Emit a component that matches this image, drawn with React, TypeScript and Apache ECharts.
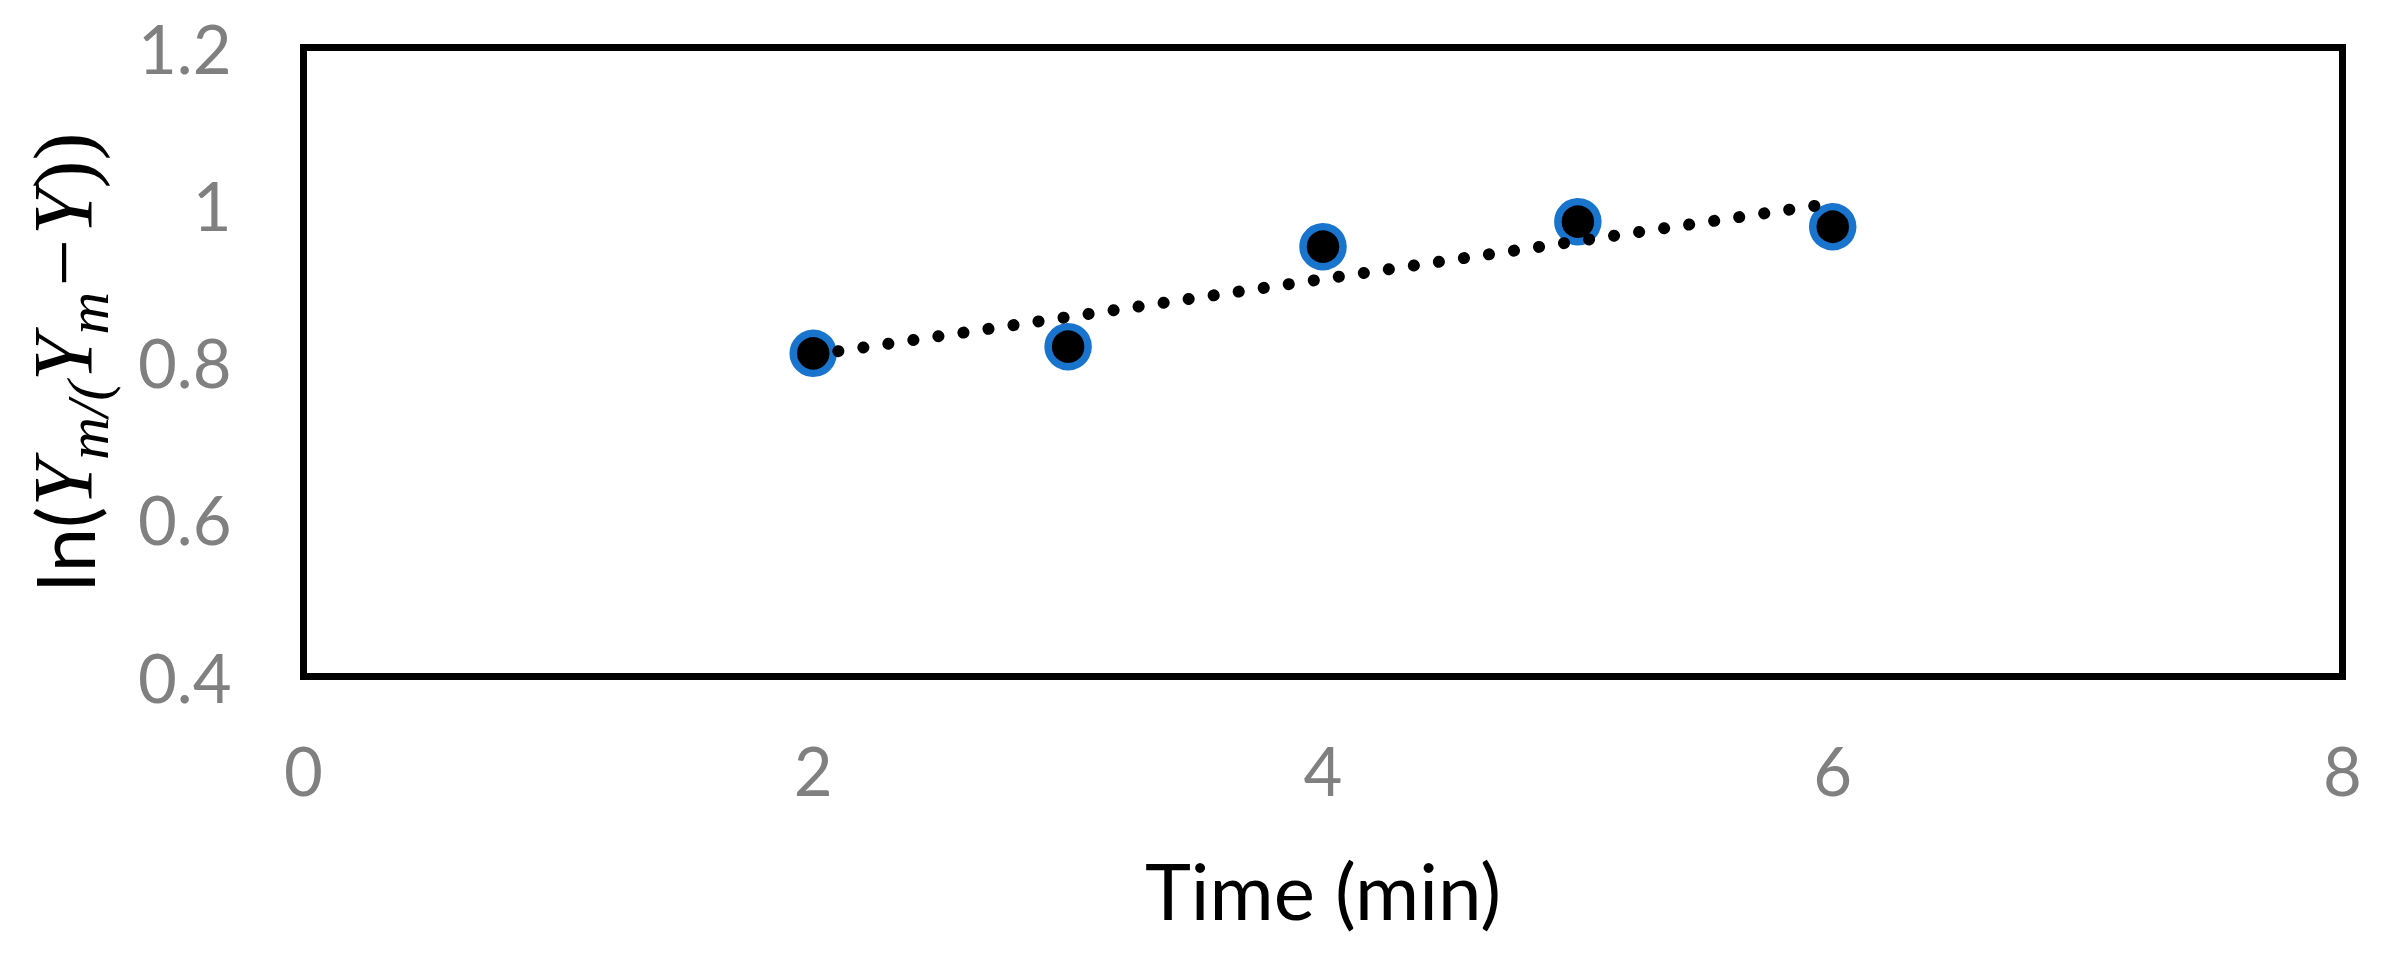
import React, { useEffect, useRef } from "react";
import * as echarts from "echarts";

// Data
const timeMin = [2, 3, 4, 5, 6];
const lnRatio = [0.811, 0.8195, 0.9467, 0.9785, 0.972];
// Linear trendline end points (as drawn in the reference)
const trendTime = [2, 6];
const trendValue = [0.809, 1.002];
// Axis ticks
const xTicks = [0, 2, 4, 6, 8];
const yTicks = [0.4, 0.6, 0.8, 1.0, 1.2];

const xTitle = "Time (min)";
const yTitle = "{n|ln(}{i|Y}{s|m/(}{i|Y}{s|m}{i|−}{i|Y}{p|))}";

export default function App() {
  const ref = useRef<HTMLDivElement>(null);

  useEffect(() => {
    if (!ref.current) return;
    const chart = echarts.init(ref.current, undefined, { renderer: "svg" });
    const scatterData = timeMin.map((t, i) => [t, lnRatio[i]]);
    const trendData = trendTime.map((t, i) => [t, trendValue[i]]);
    const tickFont = { fontFamily: "Lato", fontSize: 67, color: "#808080" };
    chart.setOption({
      animation: false,
      backgroundColor: "#ffffff",
      grid: {
        left: 303.5,
        right: 50.5,
        top: 47.5,
        bottom: 283.5,
        show: true,
        borderColor: "#000000",
        borderWidth: 7,
        backgroundColor: "transparent",
      },
      xAxis: {
        type: "value",
        min: xTicks[0],
        max: xTicks[xTicks.length - 1],
        interval: xTicks[1] - xTicks[0],
        axisLine: { show: false },
        axisTick: { show: false },
        splitLine: { show: false },
        axisLabel: { ...tickFont, margin: 60 },
        name: xTitle,
        nameLocation: "middle",
        nameGap: 174,
        nameTextStyle: {
          fontFamily: "Lato",
          fontSize: 78,
          color: "#000000",
        },
      },
      yAxis: {
        type: "value",
        min: yTicks[0],
        max: yTicks[yTicks.length - 1],
        interval: 0.2,
        axisLine: { show: false },
        axisTick: { show: false },
        splitLine: { show: false },
        axisLabel: { ...tickFont, margin: 72 },
        name: yTitle,
        nameLocation: "middle",
        nameRotate: 90,
        nameGap: 186,
        nameTextStyle: {
          color: "#000000",
          rich: {
            n: { fontFamily: "Lato", fontSize: 80, lineHeight: 108, color: "#000" },
            i: {
              fontFamily: "Liberation Serif",
              fontStyle: "italic",
              fontSize: 84,
              lineHeight: 108,
              color: "#000",
            },
            p: { fontFamily: "Liberation Serif", fontSize: 84, lineHeight: 108, color: "#000" },
            s: {
              fontFamily: "Liberation Serif",
              fontStyle: "italic",
              fontSize: 59,
              lineHeight: 42,
              verticalAlign: "bottom",
              color: "#000",
            },
          },
        },
      },
      series: [
        {
          type: "scatter",
          data: scatterData,
          symbol: "circle",
          symbolSize: 40,
          itemStyle: { color: "#000000", borderColor: "#1874cc", borderWidth: 7.5, opacity: 1 },
        },
        {
          type: "line",
          data: trendData,
          symbol: "none",
          lineStyle: { color: "#000000", width: 12, type: [0.1, 25.2], cap: "round", opacity: 1 },
        },
      ],
    });
    return () => chart.dispose();
  }, []);

  return (
    <div
      ref={ref}
      style={{ position: "fixed", left: 0, top: 0, width: 2393, height: 960, background: "#fff" }}
    />
  );
}
